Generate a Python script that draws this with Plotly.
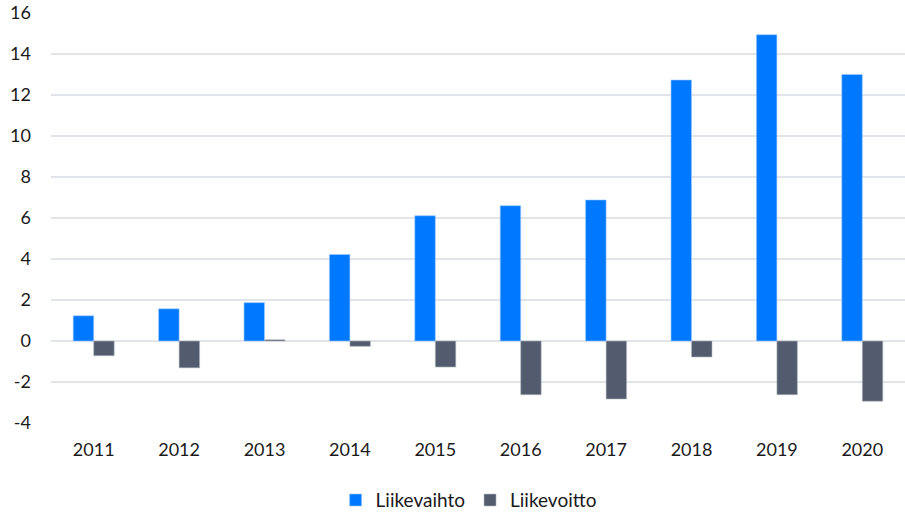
import plotly.graph_objects as go

years = ["2011", "2012", "2013", "2014", "2015", "2016", "2017", "2018", "2019", "2020"]
liikevaihto = [1.23, 1.57, 1.87, 4.22, 6.11, 6.6, 6.88, 12.73, 14.94, 13.0]
liikevoitto = [-0.72, -1.31, 0.06, -0.26, -1.27, -2.62, -2.83, -0.78, -2.62, -2.94]
y_ticks = [-4, -2, 0, 2, 4, 6, 8, 10, 12, 14, 16]
y_tick_labels = ["-4", "-2", "0", "2", "4", "6", "8", "10", "12", "14", "16"]

FONT = "Lato, Roboto, sans-serif"

fig = go.Figure()
fig.add_trace(go.Bar(x=years, y=liikevaihto, name="Liikevaihto",
                     marker=dict(color="#0078FF", line=dict(color="#9CC8FF", width=0.6))))
fig.add_trace(go.Bar(x=years, y=liikevoitto, name="Liikevoitto",
                     marker=dict(color="#525C6E", line=dict(color="#B5BAC3", width=0.6))))

fig.update_layout(
    width=905, height=513,
    margin=dict(l=51, r=0, t=13, b=90),
    paper_bgcolor="white", plot_bgcolor="white",
    barmode="group", bargap=0.52, bargroupgap=0,
    font=dict(family=FONT, size=18, color="#1a1a1a"),
    showlegend=True,
    legend=dict(orientation="h", x=0.489, xanchor="center", y=0.025, yanchor="middle",
                yref="container", font=dict(size=19), traceorder="normal"),
)
fig.update_xaxes(showgrid=False, showline=False, zeroline=False, ticks="", tickfont=dict(size=18),
                 ticklabelstandoff=14)
fig.update_yaxes(range=[-4, 16], tickvals=y_ticks, ticktext=y_tick_labels, showgrid=True,
                 gridcolor="#E1E4E9", gridwidth=2,
                 zeroline=False, showline=False, ticks="", ticklabelstandoff=19, tickfont=dict(size=18))

fig.write_html("out.html")
